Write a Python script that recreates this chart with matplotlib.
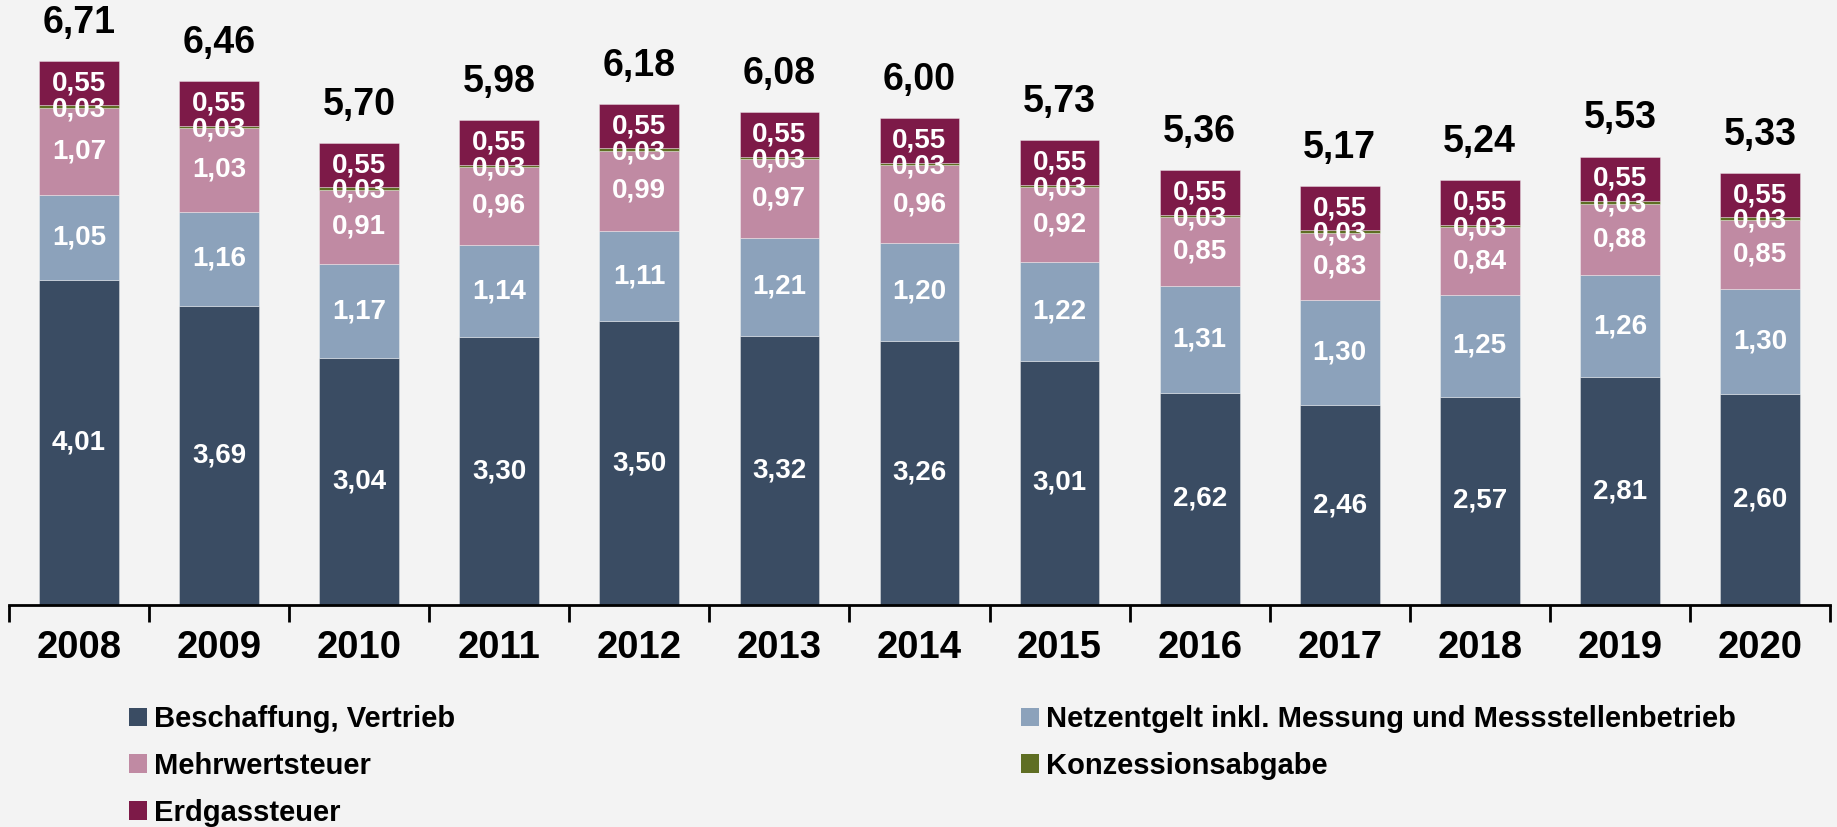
import matplotlib
matplotlib.use("Agg")
import matplotlib.pyplot as plt
from matplotlib.patches import Patch
import numpy as np

plt.rcParams['font.family'] = ['Liberation Sans', 'DejaVu Sans']
plt.rcParams['font.weight'] = 'bold'

jahre = ["2008", "2009", "2010", "2011", "2012", "2013", "2014",
         "2015", "2016", "2017", "2018", "2019", "2020"]
beschaffung = [4.01, 3.69, 3.04, 3.30, 3.50, 3.32, 3.26, 3.01, 2.62, 2.46, 2.57, 2.81, 2.60]
netzentgelt = [1.05, 1.16, 1.17, 1.14, 1.11, 1.21, 1.20, 1.22, 1.31, 1.30, 1.25, 1.26, 1.30]
mwst = [1.07, 1.03, 0.91, 0.96, 0.99, 0.97, 0.96, 0.92, 0.85, 0.83, 0.84, 0.88, 0.85]
konzession = [0.03] * 13
erdgassteuer = [0.55] * 13
summe = [6.71, 6.46, 5.70, 5.98, 6.18, 6.08, 6.00, 5.73, 5.36, 5.17, 5.24, 5.53, 5.33]

namen = ["Beschaffung, Vertrieb", "Netzentgelt inkl. Messung und Messstellenbetrieb",
         "Mehrwertsteuer", "Konzessionsabgabe", "Erdgassteuer"]
farben = ["#3a4c63", "#8ca2bb", "#c08aa3", "#5f6e23", "#7d1a48"]
reihen = [beschaffung, netzentgelt, mwst, konzession, erdgassteuer]

bg = "#f3f3f3"
fig = plt.figure(figsize=(18.37, 8.27), dpi=100, facecolor=bg)
ax = fig.add_axes([9 / 1837, 1 - 605 / 827, 1821 / 1837, 605 / 827])
ax.set_facecolor(bg)

x = np.arange(len(jahre))
breite = 0.57
unten = np.zeros(len(jahre))
for werte, farbe, name in zip(reihen, farben, namen):
    werte = np.array(werte)
    ax.bar(x, werte, breite, bottom=unten, color=farbe, edgecolor=(1, 1, 1, 0.35),
           linewidth=0.7, label=name)
    for xi, b, w in zip(x, unten, werte):
        txt = f"{w:.2f}".replace(".", ",")
        ax.text(xi, b + w / 2 - (0.03 if w < 0.1 else 0), txt, ha="center", va="center",
                color="white", fontsize=20, fontweight="bold")
    unten += werte

# Summen ueber den Balken
for xi, s in zip(x, summe):
    ax.text(xi, s + 0.47, f"{s:.2f}".replace(".", ","), ha="center", va="center",
            color="black", fontsize=27, fontweight="bold")

ax.set_xlim(-0.5, len(jahre) - 0.5)
ax.set_ylim(0, 605 / 81.1)
for s in ["top", "right", "left"]:
    ax.spines[s].set_visible(False)
ax.spines["bottom"].set_linewidth(2)
ax.set_yticks([])
ax.set_xticks(x)
ax.set_xticklabels(jahre, fontsize=27.5, fontweight="bold")
ax.tick_params(axis="x", which="major", length=0, pad=18)
ax.set_xticks(np.arange(-0.5, len(jahre)), minor=True)
ax.tick_params(axis="x", which="minor", length=12, width=2, direction="out")

handles = [Patch(facecolor=farben[i]) for i in [0, 2, 4, 1, 3]]
labels = [namen[i] for i in [0, 2, 4, 1, 3]]
fig.legend(handles, labels, ncol=2, loc="upper left", bbox_to_anchor=(103 / 1837, 1 - 679 / 827),
           frameon=False, handlelength=0.6, handleheight=0.6,
           handletextpad=0.25, labelspacing=0.64, columnspacing=19.4,
           prop={"weight": "bold", "size": 21})

fig.savefig("out.png", dpi=100, facecolor=bg)
